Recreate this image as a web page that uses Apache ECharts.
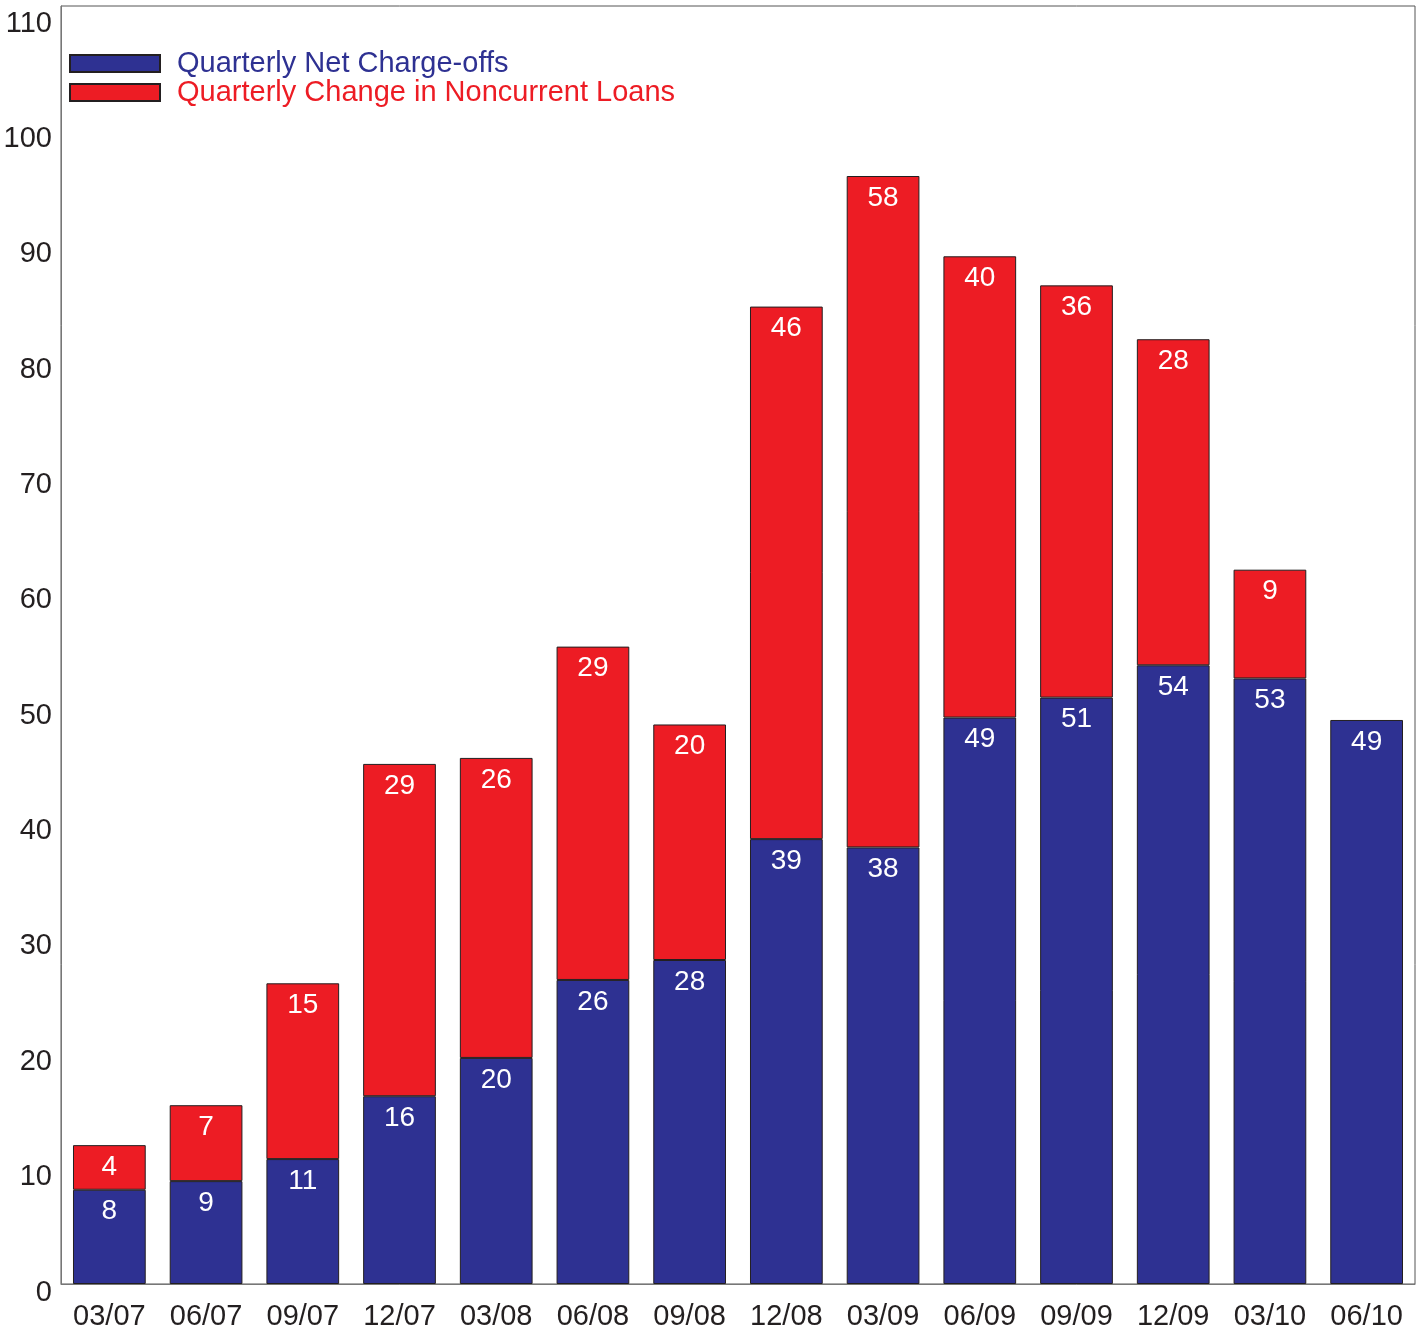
<!DOCTYPE html>
<html>
<head>
<meta charset="utf-8">
<script src="https://cdn.jsdelivr.net/npm/echarts@6/dist/echarts.min.js"></script>
<style>
  html, body { margin: 0; padding: 0; background: #ffffff; }
  #chart { width: 1422px; height: 1331px; }
</style>
</head>
<body>
<div id="chart"></div>
<script>
const categories = ['03/07', '06/07', '09/07', '12/07', '03/08', '06/08', '09/08', '12/08', '03/09', '06/09', '09/09', '12/09', '03/10', '06/10'];
const chargeOffs = [8.17, 8.92, 10.83, 16.28, 19.60, 26.36, 28.09, 38.57, 37.85, 49.11, 50.84, 53.64, 52.5, 48.90];
const noncurrentChange = [3.87, 6.58, 15.24, 28.81, 26.01, 28.90, 20.42, 46.17, 58.21, 39.99, 35.74, 28.27, 9.43, null];
const seriesNames = ['Quarterly Net Charge-offs', 'Quarterly Change in Noncurrent Loans'];
const yMin = 0, yMax = 110.8, yStep = 10;

const BLUE = '#2E3192', RED = '#ED1C24', INK = '#231F20';
const FONT = '"Liberation Sans", Arial, Helvetica, sans-serif';

const chart = echarts.init(document.getElementById('chart'), null, { renderer: 'canvas' });

const barLabel = {
  show: true,
  position: 'insideTop',
  distance: 8,
  color: '#ffffff',
  fontSize: 28,
  fontFamily: FONT,
  formatter: p => (p.value == null ? '' : String(Math.round(p.value)))
};

chart.setOption({
  animation: false,
  backgroundColor: '#ffffff',
  grid: {
    left: 61, top: 6, width: 1354, height: 1279.3,
    show: true, borderColor: '#555', borderWidth: 1, backgroundColor: 'transparent'
  },
  legend: {
    orient: 'vertical',
    left: 69, top: 49,
    padding: 0,
    itemWidth: 90, itemHeight: 17, itemGap: 0,
    icon: 'rect',
    textStyle: { fontSize: 29, lineHeight: 29, fontFamily: FONT, padding: [0, 0, 0, 12] },
    data: [
      { name: seriesNames[0], textStyle: { color: BLUE } },
      { name: seriesNames[1], textStyle: { color: RED } }
    ]
  },
  xAxis: {
    type: 'category',
    data: categories,
    axisLine: { show: true, lineStyle: { color: '#777', width: 1 } },
    axisTick: { show: false },
    axisLabel: { color: INK, fontSize: 29, fontFamily: FONT, margin: 18, interval: 0 },
    splitLine: { show: false }
  },
  yAxis: {
    type: 'value',
    min: yMin, max: yMax, interval: yStep,
    axisLine: { show: true, lineStyle: { color: '#777', width: 1 } },
    axisTick: { show: false },
    splitLine: { show: false },
    axisLabel: {
      color: INK, fontSize: 29, fontFamily: FONT, margin: 9,
      verticalAlign: 'top', lineHeight: 17,
      showMaxLabel: false,
      formatter: v => (Math.abs(v / yStep - Math.round(v / yStep)) < 1e-6 ? String(Math.round(v)) : '')
    }
  },
  series: [
    {
      name: seriesNames[0], type: 'bar', stack: 'total',
      barCategoryGap: '24.8%',
      data: chargeOffs,
      itemStyle: { color: BLUE, borderColor: INK, borderWidth: 1 },
      label: barLabel
    },
    {
      name: seriesNames[1], type: 'bar', stack: 'total',
      barCategoryGap: '24.8%',
      data: noncurrentChange,
      itemStyle: { color: RED, borderColor: INK, borderWidth: 1 },
      label: barLabel
    }
  ]
});
</script>
</body>
</html>
